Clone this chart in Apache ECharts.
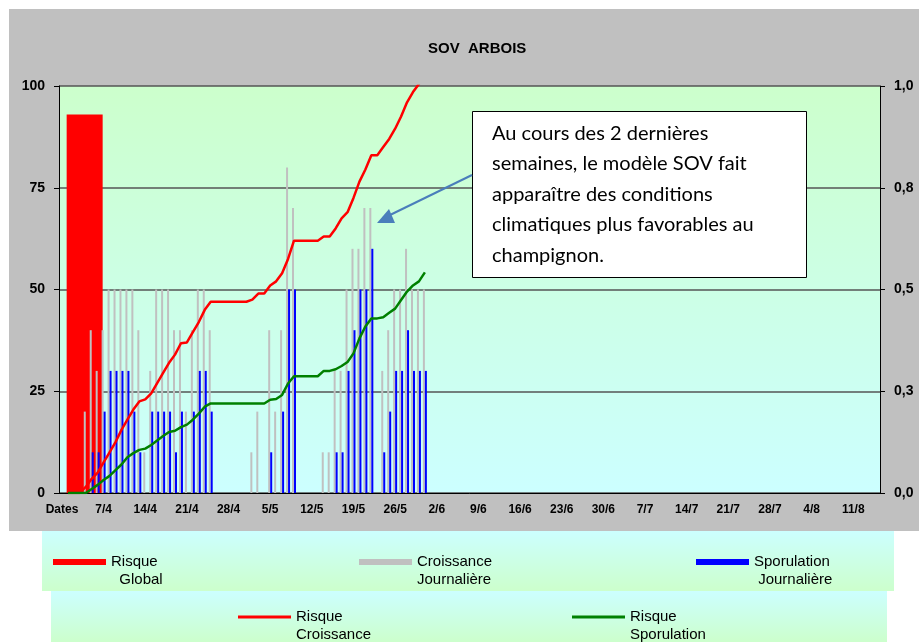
<!DOCTYPE html>
<html>
<head>
<meta charset="utf-8">
<script src="https://cdn.jsdelivr.net/npm/echarts@6/dist/echarts.min.js"></script>
<style>
  html, body { margin: 0; padding: 0; background: #fff; }
  #chart { width: 919px; height: 642px; }
</style>
</head>
<body>
<div id="chart"></div>
<script>
// dates : first category is the header "Dates" (31/3), then 1/4 -> 15/8
var months = [[4, 30], [5, 31], [6, 30], [7, 31], [8, 15]];
var dates = ['Dates'];
months.forEach(function (m) {
  for (var d = 1; d <= m[1]; d++) dates.push(d + '/' + m[0]);
});

// Risque global (one big bar)
var risqueGlobal = [93];
var globalSlots = ['Global', '', '', '', '', '', '', '', '', '', '', '', '', '', '', ''];

// Croissance journaliere (grey bars)
var croissance = [0, 0, 0, 0, 20, 40, 30, 40, 50, 50, 50, 50, 50, 40, 10, 30, 50, 50, 50, 40,
  40, 20, 40, 50, 50, 40, 0, 0, 0, 0, 0, 0, 10, 20, 0, 40, 20, 40, 80, 70,
  0, 0, 0, 0, 10, 10, 30, 30, 50, 60, 60, 70, 70, 0, 30, 40, 50, 50, 60, 50, 50, 50];

// Sporulation journaliere (blue bars)
var sporulation = [0, 0, 0, 0, 0, 10, 10, 20, 30, 30, 30, 30, 20, 10, 0, 20, 20, 20, 20, 10,
  20, 0, 20, 30, 30, 20, 0, 0, 0, 0, 0, 0, 0, 0, 0, 10, 0, 20, 50, 50,
  0, 0, 0, 0, 0, 0, 10, 10, 30, 40, 50, 50, 60, 0, 10, 20, 30, 30, 40, 30, 30, 30];

// Risque croissance (red line)
var risqueCroissance = ['-', 0, 0, 0, 1.5, 3.5, 5, 7.5, 10, 12.5, 15.5, 18, 20.5, 22.5, 23, 24.5, 27, 29.5, 32, 34,
  36.8, 37, 39.5, 42, 45, 47, 47, 47, 47, 47, 47, 47, 47.5, 49, 49, 51, 52, 54, 57.5, 62,
  62, 62, 62, 62, 63, 63, 65, 67.5, 69, 72.5, 76.5, 79.5, 83, 83, 85, 87, 89.5, 92.5, 96, 98.5, 100.5, 103];

// Risque sporulation (green line)
var risqueSporulation = ['-', 0, 0, 0, 0, 1, 2, 3.2, 4.2, 5.6, 7, 8.8, 9.8, 10.6, 10.9, 11.8, 12.9, 14, 15, 15.3,
  16.2, 16.8, 18, 19.5, 21.2, 22, 22, 22, 22, 22, 22, 22, 22, 22, 22, 22.9, 23.1, 24.1, 26.9, 28.7,
  28.7, 28.7, 28.7, 28.7, 30, 30, 30.4, 31.2, 32.2, 34.3, 38, 40.9, 42.9, 42.9, 43.2, 44.3, 45.3, 47.4, 49.5, 51, 52, 54.2];

var rightTicks = ['0,0', '0,3', '0,5', '0,8', '1,0'];

var noteLines = [
  'Au cours des 2 dernières',
  'semaines, le modèle SOV fait',
  'apparaître des conditions',
  'climatiques plus favorables au',
  'champignon.'
];

var myChart = echarts.init(document.getElementById('chart'));

var axisFont = { fontFamily: 'Liberation Sans, Arial', fontWeight: 'bold', fontSize: 14, color: '#000' };
var legendFont = { fontFamily: 'Liberation Sans, Arial', fontSize: 15, color: '#000', lineHeight: 18 };

// empty first line so that the first real line sits level with the key
function legendItem(name, left, top, h, label) {
  return {
    data: [name], left: left, top: top, padding: 0, icon: 'rect',
    itemWidth: 53, itemHeight: h, itemGap: 0, selectedMode: false,
    textStyle: legendFont,
    formatter: function () { return '\u00a0\n' + label; }
  };
}

var option = {
  animation: false,
  title: {
    text: 'SOV  ARBOIS', left: 423, top: 36,
    textStyle: { fontFamily: 'Liberation Sans, Arial', fontWeight: 'bold', fontSize: 15, color: '#000' }
  },
  graphic: [
    { type: 'rect', z: -100, shape: { x: 9, y: 9, width: 910, height: 522 }, style: { fill: '#c0c0c0' } },
    { type: 'rect', z: -100, shape: { x: 42, y: 531, width: 852, height: 60 },
      style: { fill: new echarts.graphic.LinearGradient(0, 0, 0, 1, [{ offset: 0, color: '#ccffff' }, { offset: 1, color: '#ccffcc' }]) } },
    { type: 'rect', z: -100, shape: { x: 51, y: 591, width: 836, height: 51 },
      style: { fill: new echarts.graphic.LinearGradient(0, 0, 0, 1, [{ offset: 0, color: '#ccffff' }, { offset: 1, color: '#ccffcc' }]) } },
    { type: 'rect', z: 100, shape: { x: 472.5, y: 111.5, width: 334, height: 166 },
      style: { fill: '#fff', stroke: '#000', lineWidth: 1 } },
    { type: 'text', z: 101, x: 492, y: 118,
      style: { text: noteLines.join('\n'), font: '20px Lato, "Open Sans", sans-serif', lineHeight: 30.5, fill: '#000' } },
    { type: 'line', z: 100, shape: { x1: 472, y1: 175, x2: 390, y2: 215 },
      style: { stroke: '#4a7ebb', lineWidth: 2 } },
    { type: 'polygon', z: 100, shape: { points: [[377, 223], [389, 209], [395, 223]] },
      style: { fill: '#4a7ebb' } }
  ],
  legend: [
    legendItem('Risque Global', 53, 535, 6, 'Risque\n  Global'),
    legendItem('Croissance Journalière', 359, 535, 6, 'Croissance\nJournalière'),
    legendItem('Sporulation Journalière', 696, 535, 6, 'Sporulation\n Journalière'),
    legendItem('Risque Croissance', 238, 590, 3, 'Risque\nCroissance'),
    legendItem('Risque Sporulation', 572, 590, 3, 'Risque\nSporulation')
  ],
  grid: {
    left: 59, right: 39, top: 86, bottom: 149, show: true, borderWidth: 0,
    backgroundColor: new echarts.graphic.LinearGradient(0, 0, 0, 1, [{ offset: 0, color: '#ccffcc' }, { offset: 1, color: '#ccffff' }])
  },
  xAxis: [{
    type: 'category', data: dates, boundaryGap: true,
    axisLine: { lineStyle: { color: '#000', width: 1 } },
    axisTick: { interval: 6, length: 5, lineStyle: { color: '#000' } },
    axisLabel: Object.assign({}, axisFont, { interval: 6, margin: 11, fontSize: 12 }),
    splitLine: { show: false }
  }, {
    type: 'category', data: globalSlots, show: false, boundaryGap: true
  }],
  yAxis: [{
    type: 'value', min: 0, max: 100, interval: 25,
    axisLine: { show: true, lineStyle: { color: '#000' } },
    axisTick: { show: true, length: 5, lineStyle: { color: '#000' } },
    axisLabel: Object.assign({ margin: 14 }, axisFont),
    splitLine: { lineStyle: { color: '#555', width: 1.5 } }
  }, {
    type: 'value', min: 0, max: 1, interval: 0.25, position: 'right',
    axisLine: { show: true, lineStyle: { color: '#000' } },
    axisTick: { show: true, length: 5, lineStyle: { color: '#000' } },
    axisLabel: Object.assign({ margin: 14, formatter: function (v) { return rightTicks[Math.round(v / 0.25)]; } }, axisFont),
    splitLine: { show: false }
  }],
  series: [{
    name: 'Risque Global', type: 'bar', xAxisIndex: 1, yAxisIndex: 0,
    data: risqueGlobal, barWidth: 36, itemStyle: { color: '#ff0000' }, z: 1
  }, {
    name: 'Croissance Journalière', type: 'bar', data: croissance,
    barWidth: 2, barGap: '0%', itemStyle: { color: '#c0c0c0' }, z: 2
  }, {
    name: 'Sporulation Journalière', type: 'bar', data: sporulation,
    barWidth: 2, barGap: '0%', itemStyle: { color: '#0000ff' }, z: 2
  }, {
    name: 'Risque Croissance', type: 'line', data: risqueCroissance, showSymbol: false, symbol: 'none',
    lineStyle: { color: '#ff0000', width: 2.5 }, itemStyle: { color: '#ff0000' }, z: 3
  }, {
    name: 'Risque Sporulation', type: 'line', data: risqueSporulation, showSymbol: false, symbol: 'none',
    lineStyle: { color: '#008000', width: 2.5 }, itemStyle: { color: '#008000' }, z: 3
  }]
};

myChart.setOption(option);
</script>
</body>
</html>
